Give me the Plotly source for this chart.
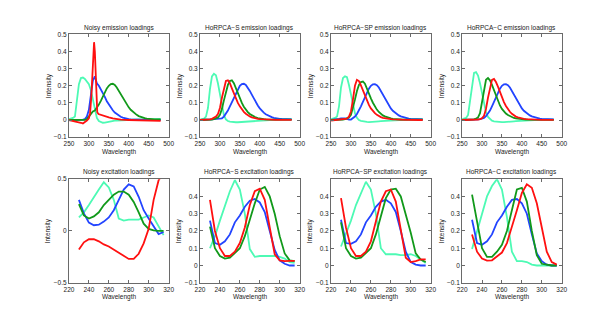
import plotly.graph_objects as go

# ---------------- data ----------------
EM_X = [250, 255, 260, 265, 270, 275, 280, 285, 290, 295,
        300, 305, 310, 315, 320, 325, 330, 335, 340, 345,
        350, 355, 360, 365, 370, 375, 380, 385, 390, 395,
        400, 405, 410, 415, 420, 425, 430, 435, 440, 445,
        450, 455, 460, 465, 470, 475, 480]
EX_X = [230, 235, 240, 245, 250, 255, 260, 265, 270, 275,
        280, 285, 290, 295, 300, 305, 310, 315]

# Noisy emission
em_noisy_cyan = [0.005, 0.008, 0.012, 0.02, 0.10, 0.21, 0.245, 0.248, 0.24, 0.228,
                 0.21, 0.175, 0.115, 0.05, 0.012, -0.006, -0.013, -0.016, -0.015, -0.012,
                 -0.009, -0.007, -0.005, -0.004, -0.003, -0.002, -0.001, 0.0, 0.0, 0.001,
                 0.001, 0.002, 0.002, 0.003, 0.003, 0.003, 0.004, 0.004, 0.004, 0.005,
                 0.005, 0.005, 0.005, 0.005, 0.006, 0.006, 0.006]
em_noisy_blue = [0, 0, 0, 0, 0, 0, 0.001, 0.002, 0.005, 0.02,
                 0.06, 0.15, 0.23, 0.255, 0.215, 0.2, 0.18, 0.16, 0.135, 0.11,
                 0.09, 0.072, 0.057, 0.044, 0.034, 0.026, 0.019, 0.014, 0.01, 0.007,
                 0.005, 0.004, 0.003, 0.002, 0.001, 0.001, 0, 0, 0, 0,
                 0, 0, 0, 0, 0, 0, 0]
em_noisy_green = [0, 0, 0, 0, 0, 0, 0, 0, 0.001, 0.005,
                  0.02, 0.038, 0.05, 0.056, 0.07, 0.09, 0.112, 0.138, 0.163, 0.185,
                  0.2, 0.21, 0.212, 0.205, 0.19, 0.17, 0.15, 0.13, 0.11, 0.09,
                  0.074, 0.06, 0.048, 0.038, 0.03, 0.023, 0.018, 0.014, 0.011, 0.008,
                  0.006, 0.005, 0.004, 0.004, 0.004, 0.004, 0.004]
em_noisy_red_x = [250, 260, 270, 280, 285, 290, 295, 300, 303, 306,
                  309, 311, 313, 315, 317, 319, 321, 324, 330, 340,
                  350, 360, 370, 380, 400, 420, 440, 460, 480]
em_noisy_red = [0, -0.004, -0.008, -0.016, -0.02, -0.013, -0.003, 0.01, 0.04, 0.13,
                0.3, 0.42, 0.455, 0.4, 0.25, 0.1, 0.045, 0.035, 0.03, 0.022,
                0.016, 0.01, 0.005, 0.002, 0, -0.002, -0.003, -0.004, -0.005]

# HoRPCA-S emission
em_s_cyan = [0.002, 0.004, 0.008, 0.02, 0.07, 0.18, 0.255, 0.27, 0.262, 0.215,
             0.145, 0.075, 0.028, 0.004, -0.006, -0.01, -0.012, -0.013, -0.013, -0.013,
             -0.012, -0.011, -0.01, -0.009, -0.008, -0.007, -0.006, -0.005, -0.004, -0.003,
             -0.002, -0.002, -0.001, 0, 0, 0.001, 0.001, 0.002, 0.002, 0.003,
             0.003, 0.003, 0.004, 0.004, 0.004, 0.005, 0.005]
em_s_red = [0, 0, 0, 0.001, 0.002, 0.004, 0.007, 0.012, 0.02, 0.035,
            0.07, 0.13, 0.19, 0.228, 0.232, 0.215, 0.185, 0.155, 0.125, 0.1,
            0.08, 0.062, 0.048, 0.037, 0.028, 0.021, 0.016, 0.012, 0.009, 0.007,
            0.005, 0.004, 0.003, 0.003, 0.002, 0.002, 0.002, 0.001, 0.001, 0.001,
            0.001, 0.001, 0.001, 0.001, 0.001, 0.001, 0.001]
em_s_green = [0, 0, 0, 0, 0.001, 0.002, 0.003, 0.005, 0.008, 0.015,
              0.03, 0.065, 0.115, 0.165, 0.205, 0.228, 0.232, 0.215, 0.185, 0.155,
              0.125, 0.1, 0.078, 0.06, 0.046, 0.035, 0.027, 0.02, 0.015, 0.011,
              0.008, 0.006, 0.005, 0.004, 0.003, 0.003, 0.002, 0.002, 0.002, 0.002,
              0.002, 0.002, 0.002, 0.002, 0.002, 0.002, 0.002]
em_s_blue = [0, 0, 0, 0, 0.001, 0.002, 0.004, 0.006, 0.007, 0.006,
             0.006, 0.01, 0.02, 0.035, 0.055, 0.08, 0.105, 0.133, 0.16, 0.183,
             0.2, 0.21, 0.212, 0.205, 0.19, 0.17, 0.148, 0.125, 0.104, 0.085,
             0.068, 0.054, 0.043, 0.034, 0.027, 0.021, 0.017, 0.013, 0.01, 0.008,
             0.007, 0.006, 0.005, 0.005, 0.004, 0.004, 0.004]

# HoRPCA-SP emission
em_sp_cyan = [0.005, 0.008, 0.012, 0.02, 0.08, 0.19, 0.245, 0.255, 0.25, 0.205,
              0.145, 0.085, 0.04, 0.013, 0.0, -0.005, -0.008, -0.01, -0.011, -0.012,
              -0.012, -0.011, -0.01, -0.009, -0.008, -0.007, -0.006, -0.005, -0.004, -0.003,
              -0.002, -0.002, -0.001, 0, 0, 0.001, 0.001, 0.002, 0.002, 0.003,
              0.003, 0.004, 0.004, 0.005, 0.005, 0.005, 0.005]
em_sp_red = [-0.003, -0.002, -0.001, 0, 0.001, 0.002, 0.003, 0.005, 0.008, 0.02,
             0.05, 0.12, 0.2, 0.235, 0.228, 0.203, 0.172, 0.142, 0.113, 0.088,
             0.068, 0.052, 0.04, 0.03, 0.022, 0.017, 0.013, 0.01, 0.008, 0.006,
             0.005, 0.004, 0.003, 0.002, 0.002, 0.001, 0.001, 0.001, 0.001, 0.001,
             0, 0, 0, 0, 0, 0, 0]
em_sp_green = [0, 0, 0, 0, 0.001, 0.002, 0.003, 0.005, 0.008, 0.015,
               0.03, 0.07, 0.12, 0.17, 0.205, 0.222, 0.225, 0.212, 0.187, 0.157,
               0.127, 0.101, 0.079, 0.061, 0.047, 0.036, 0.027, 0.021, 0.016, 0.012,
               0.009, 0.007, 0.005, 0.004, 0.003, 0.003, 0.002, 0.002, 0.002, 0.002,
               0.002, 0.002, 0.002, 0.002, 0.002, 0.002, 0.002]
em_sp_blue = [0, 0.001, 0.002, 0.004, 0.007, 0.01, 0.011, 0.01, 0.006, 0.002,
              0.003, 0.01, 0.02, 0.035, 0.055, 0.08, 0.106, 0.134, 0.16, 0.183,
              0.2, 0.209, 0.21, 0.204, 0.19, 0.17, 0.148, 0.125, 0.104, 0.085,
              0.068, 0.054, 0.043, 0.034, 0.027, 0.021, 0.017, 0.013, 0.01, 0.008,
              0.007, 0.006, 0.005, 0.005, 0.004, 0.004, 0.004]

# HoRPCA-C emission
em_c_cyan = [0.005, 0.008, 0.012, 0.03, 0.11, 0.22, 0.275, 0.28, 0.26, 0.215,
             0.15, 0.09, 0.045, 0.018, 0.004, -0.004, -0.008, -0.01, -0.011, -0.012,
             -0.012, -0.012, -0.012, -0.011, -0.01, -0.009, -0.008, -0.007, -0.006, -0.005,
             -0.004, -0.003, -0.002, -0.001, 0, 0, 0.001, 0.001, 0.002, 0.002,
             0.002, 0.003, 0.003, 0.003, 0.004, 0.004, 0.004]
em_c_green = [0, 0, 0, 0, 0.001, 0.002, 0.004, 0.008, 0.015, 0.04,
              0.11, 0.19, 0.235, 0.245, 0.232, 0.205, 0.172, 0.14, 0.11, 0.085,
              0.065, 0.05, 0.038, 0.029, 0.022, 0.016, 0.012, 0.009, 0.007, 0.005,
              0.004, 0.003, 0.003, 0.002, 0.002, 0.002, 0.002, 0.001, 0.001, 0.001,
              0.001, 0.001, 0.001, 0.001, 0.001, 0.001, 0.001]
em_c_red = [0, 0, 0, 0, 0, 0, 0.001, 0.002, 0.003, 0.005,
            0.01, 0.025, 0.065, 0.13, 0.195, 0.235, 0.24, 0.222, 0.195, 0.163,
            0.132, 0.105, 0.082, 0.063, 0.048, 0.036, 0.027, 0.02, 0.015, 0.011,
            0.008, 0.006, 0.005, 0.004, 0.003, 0.002, 0.002, 0.002, 0.001, 0.001,
            0.001, 0.001, 0.001, 0.001, 0.001, 0.001, 0.001]
em_c_blue = [0, 0, 0, 0, 0, 0.001, 0.002, 0.003, 0.004, 0.005,
             0.007, 0.012, 0.022, 0.036, 0.055, 0.08, 0.106, 0.134, 0.16, 0.183,
             0.2, 0.209, 0.21, 0.204, 0.19, 0.17, 0.148, 0.125, 0.104, 0.085,
             0.068, 0.054, 0.043, 0.034, 0.027, 0.021, 0.017, 0.013, 0.01, 0.008,
             0.007, 0.006, 0.005, 0.005, 0.004, 0.004, 0.004]

# Excitation loadings
ex_noisy_blue = [0.3, 0.17, 0.08, 0.055, 0.06, 0.09, 0.13, 0.2, 0.3, 0.4,
                 0.45, 0.43, 0.33, 0.2, 0.12, 0.04, -0.03, -0.01]
ex_noisy_cyan = [0.13, 0.18, 0.25, 0.33, 0.4, 0.47, 0.42, 0.3, 0.12, 0.1,
                 0.11, 0.11, 0.11, 0.13, 0.15, 0.13, 0.05, -0.04]
ex_noisy_green = [0.26, 0.15, 0.12, 0.14, 0.18, 0.25, 0.3, 0.35, 0.38, 0.38,
                  0.35, 0.28, 0.18, 0.07, 0.02, 0.005, 0.0, 0.0]
ex_noisy_red = [-0.18, -0.11, -0.08, -0.08, -0.1, -0.13, -0.15, -0.18, -0.21, -0.24,
                -0.27, -0.27, -0.22, -0.12, 0.02, 0.3, 0.49, 0.56]

ex_s_red = [0.38, 0.2, 0.1, 0.055, 0.055, 0.08, 0.13, 0.22, 0.35, 0.43,
            0.445, 0.38, 0.22, 0.065, 0.03, 0.025, 0.027, 0.027]
ex_s_blue = [0.26, 0.13, 0.12, 0.14, 0.18, 0.25, 0.29, 0.34, 0.375, 0.385,
             0.365, 0.31, 0.2, 0.09, 0.03, 0.01, 0.0, 0.0]
ex_s_green = [0.225, 0.1, 0.055, 0.04, 0.045, 0.07, 0.1, 0.17, 0.27, 0.36,
              0.44, 0.455, 0.4, 0.3, 0.17, 0.07, 0.03, 0.025]
ex_s_cyan = [0.1, 0.17, 0.26, 0.35, 0.43, 0.495, 0.44, 0.3, 0.095, 0.05,
             0.055, 0.055, 0.055, 0.055, 0.05, 0.04, 0.02, 0.015]

ex_sp_red = [0.39, 0.22, 0.1, 0.055, 0.055, 0.08, 0.14, 0.25, 0.37, 0.43,
             0.44, 0.37, 0.2, 0.045, 0.02, 0.025, 0.035, 0.035]
ex_sp_blue = [0.265, 0.13, 0.125, 0.14, 0.18, 0.25, 0.29, 0.34, 0.37, 0.38,
              0.36, 0.31, 0.2, 0.08, 0.02, 0.005, 0.0, 0.0]
ex_sp_green = [0.25, 0.1, 0.055, 0.04, 0.045, 0.07, 0.1, 0.18, 0.29, 0.39,
               0.44, 0.445, 0.4, 0.3, 0.19, 0.07, 0.035, 0.02]
ex_sp_cyan = [0.11, 0.18, 0.26, 0.35, 0.42, 0.485, 0.44, 0.3, 0.1, 0.065,
              0.065, 0.065, 0.06, 0.06, 0.065, 0.055, 0.035, 0.015]

ex_c_green = [0.41, 0.25, 0.1, 0.05, 0.05, 0.08, 0.12, 0.2, 0.33, 0.44,
              0.45, 0.37, 0.2, 0.06, 0.01, 0.005, 0.0, 0.0]
ex_c_red = [0.18, 0.08, 0.04, 0.028, 0.03, 0.05, 0.075, 0.13, 0.22, 0.32,
            0.42, 0.47, 0.45, 0.36, 0.22, 0.08, 0.02, 0.005]
ex_c_blue = [0.265, 0.13, 0.12, 0.14, 0.18, 0.25, 0.29, 0.34, 0.38, 0.385,
             0.36, 0.3, 0.18, 0.07, 0.025, 0.005, 0.0, 0.0]
ex_c_cyan = [0.095, 0.2, 0.3, 0.4, 0.46, 0.5, 0.44, 0.28, 0.08, 0.025,
             0.025, 0.02, 0.005, 0.0, 0.0, 0.0, 0.0, 0.0]

TITLES = ["Noisy emission loadings", "HoRPCA\u2212S emission loadings",
          "HoRPCA\u2212SP emission loadings", "HoRPCA\u2212C emission loadings",
          "Noisy excitation loadings", "HoRPCA\u2212S excitation loadings",
          "HoRPCA\u2212SP excitation loadings", "HoRPCA\u2212C excitation loadings"]

# ---------------- style ----------------
W, H = 598, 311
BLUE = "#2244ff"
GREEN = "#11991a"
RED = "#ff1010"
CYAN = "#4dfab4"
LW = 1.8
AX_COL = "#6a6a6a"
TXT = "#222222"
FONT = "Liberation Sans, Arial, sans-serif"
FS = 6.5

lefts = [57, 190.5, 324, 457.5]
pw = 101.5
top_row = (23, 128)
bot_row = (171, 277)

fig = go.Figure()

panels = [
    # (row, col, series list)
    (0, 0, [(EM_X, em_noisy_cyan, CYAN), (EM_X, em_noisy_blue, BLUE),
            (EM_X, em_noisy_green, GREEN), (em_noisy_red_x, em_noisy_red, RED)]),
    (0, 1, [(EM_X, em_s_cyan, CYAN), (EM_X, em_s_blue, BLUE),
            (EM_X, em_s_green, GREEN), (EM_X, em_s_red, RED)]),
    (0, 2, [(EM_X, em_sp_cyan, CYAN), (EM_X, em_sp_blue, BLUE),
            (EM_X, em_sp_green, GREEN), (EM_X, em_sp_red, RED)]),
    (0, 3, [(EM_X, em_c_cyan, CYAN), (EM_X, em_c_blue, BLUE),
            (EM_X, em_c_green, GREEN), (EM_X, em_c_red, RED)]),
    (1, 0, [(EX_X, ex_noisy_cyan, CYAN), (EX_X, ex_noisy_blue, BLUE),
            (EX_X, ex_noisy_green, GREEN), (EX_X, ex_noisy_red, RED)]),
    (1, 1, [(EX_X, ex_s_cyan, CYAN), (EX_X, ex_s_blue, BLUE),
            (EX_X, ex_s_green, GREEN), (EX_X, ex_s_red, RED)]),
    (1, 2, [(EX_X, ex_sp_cyan, CYAN), (EX_X, ex_sp_blue, BLUE),
            (EX_X, ex_sp_green, GREEN), (EX_X, ex_sp_red, RED)]),
    (1, 3, [(EX_X, ex_c_cyan, CYAN), (EX_X, ex_c_blue, BLUE),
            (EX_X, ex_c_green, GREEN), (EX_X, ex_c_red, RED)]),
]

layout = dict(width=W, height=H, margin=dict(l=0, r=0, t=0, b=0),
              paper_bgcolor="white", plot_bgcolor="white", showlegend=False,
              font=dict(family=FONT, size=FS, color=TXT))
annotations = []

for i, (row, col, series) in enumerate(panels):
    n = i + 1
    xa = "x" if n == 1 else f"x{n}"
    ya = "y" if n == 1 else f"y{n}"
    for xs, ys, c in series:
        fig.add_trace(go.Scatter(x=xs, y=ys, mode="lines",
                                 line=dict(color=c, width=LW),
                                 xaxis=xa, yaxis=ya, hoverinfo="skip"))
    t, b = top_row if row == 0 else bot_row
    x0 = lefts[col] / W
    x1 = (lefts[col] + pw) / W
    y0 = (H - b) / H
    y1 = (H - t) / H
    common = dict(showline=True, linecolor=AX_COL, linewidth=1, mirror="ticks",
                  ticks="inside", ticklen=3, tickcolor=AX_COL, tickwidth=1,
                  showgrid=False, zeroline=False,
                  tickfont=dict(family=FONT, size=FS, color=TXT), fixedrange=True)
    if row == 0:
        xr, xt = [250, 500], [250, 300, 350, 400, 450, 500]
        yr, yt = [-0.1, 0.5], [-0.1, 0, 0.1, 0.2, 0.3, 0.4, 0.5]
    else:
        xr, xt = [220, 320], [220, 240, 260, 280, 300, 320]
        if col == 0:
            yr, yt = [-0.5, 0.5], [-0.5, 0, 0.5]
        else:
            yr, yt = [-0.1, 0.5], [-0.1, 0, 0.1, 0.2, 0.3, 0.4]
    xkey = "xaxis" if n == 1 else f"xaxis{n}"
    ykey = "yaxis" if n == 1 else f"yaxis{n}"
    layout[xkey] = dict(domain=[x0, x1], range=xr, tickvals=xt, anchor=ya, **common)
    layout[ykey] = dict(domain=[y0, y1], range=yr, tickvals=yt, anchor=xa,
                        ticktext=[("\u2212" + f"{abs(v):g}") if v < 0 else f"{v:g}" for v in yt],
                        **common)
    cx = (lefts[col] + pw / 2) / W
    annotations.append(dict(text=TITLES[i], x=cx, y=(H - (t - 7)) / H, xref="paper", yref="paper",
                            showarrow=False, xanchor="center", yanchor="middle",
                            font=dict(family=FONT, size=FS, color=TXT)))
    annotations.append(dict(text="Wavelength", x=cx, y=(H - (b + 15)) / H, xref="paper", yref="paper",
                            showarrow=False, xanchor="center", yanchor="middle",
                            font=dict(family=FONT, size=FS, color=TXT)))
    annotations.append(dict(text="Intensity", x=(lefts[col] - 21) / W, y=(H - (t + b) / 2) / H,
                            xref="paper", yref="paper", textangle=-90,
                            showarrow=False, xanchor="center", yanchor="middle",
                            font=dict(family=FONT, size=FS, color=TXT)))

layout["annotations"] = annotations
fig.update_layout(**layout)
fig.write_html("out.html")
